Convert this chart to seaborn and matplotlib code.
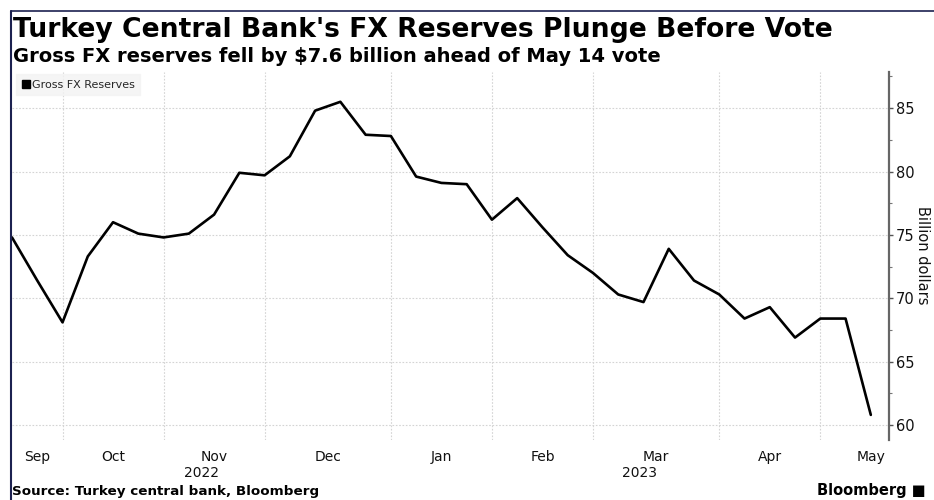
import numpy as np
import pandas as pd
import matplotlib
matplotlib.use("Agg")
import matplotlib.pyplot as plt
import matplotlib.transforms as mtransforms
from matplotlib.lines import Line2D
from matplotlib.ticker import MultipleLocator
import seaborn as sns

# Weekly gross FX reserves of the Turkish central bank (billion USD), by release week
week_start = "2022-09-22"
reserves = [74.8, 71.4, 68.1, 73.3, 76.0, 75.1, 74.8, 75.1, 76.6, 79.9,
            79.7, 81.2, 84.8, 85.5, 82.9, 82.8, 79.6, 79.1, 79.0, 76.2,
            77.9, 75.6, 73.4, 72.0, 70.3, 69.7, 73.9, 71.4, 70.3, 68.4,
            69.3, 66.9, 68.4, 68.4, 60.8]
y_ticks = [60, 65, 70, 75, 80, 85]
series_name = "Gross FX Reserves"
title = "Turkey Central Bank's FX Reserves Plunge Before Vote"
subtitle = "Gross FX reserves fell by $7.6 billion ahead of May 14 vote"
source = "Source: Turkey central bank, Bloomberg"
y_label = "Billion dollars"

dates = pd.date_range(week_start, periods=len(reserves), freq="7D")
df = pd.DataFrame({"week": np.arange(len(reserves)), "date": dates,
                   "reserves": reserves})

sns.set_theme(style="white")
plt.rcParams["font.family"] = ["DejaVu Sans"]

fig = plt.figure(figsize=(9.34, 5.0), dpi=100)
ax = fig.add_axes([12 / 934, 60 / 500, 877 / 934, 368 / 500])

sns.lineplot(data=df, x="week", y="reserves", color="black", lw=1.9,
             ax=ax, legend=False)

ax.set_xlim(0, 34.72)
ax.set_ylim(58.82, 87.85)

# Month boundaries sit on the first observation of each month
months = df["date"].dt.to_period("M")
starts = [0] + [i for i in range(1, len(df)) if months[i] != months[i - 1]]
ax.set_xticks(starts[1:])
ax.set_xticklabels([])
ax.tick_params(axis="x", length=0)

trans = mtransforms.blended_transform_factory(ax.transData, ax.transAxes)
weekday = dates[0].weekday()
for s in starts:
    period = months[s]
    # weekly slots the whole calendar month would occupy on this axis
    days = pd.date_range(period.start_time, period.end_time.normalize())
    slots = [d for d in days if d.weekday() == weekday]
    first = s - sum(1 for d in slots if d < dates[s])
    lo = max(first, 0)
    hi = first + len(slots)
    ax.text((lo + hi) / 2, -0.045, dates[s].strftime("%b"), transform=trans,
            ha="center", va="center", fontsize=10, color="#111111")

years = df["date"].dt.year
for yr in sorted(years.unique()):
    idx = df.index[years == yr]
    lo = idx.min()
    hi = min(idx.max() + 1, ax.get_xlim()[1])
    ax.text((lo + hi) / 2, -0.09, str(yr), transform=trans, ha="center",
            va="center", fontsize=10, color="#111111")

# Right-hand value axis
ax.yaxis.tick_right()
ax.set_yticks(y_ticks)
ax.yaxis.set_minor_locator(MultipleLocator(2.5))
ax.tick_params(axis="y", which="major", length=3, width=1, pad=2,
               labelsize=10.5, color="#555555", labelcolor="#111111")
ax.tick_params(axis="y", which="minor", length=2.5, width=0.8, color="#777777")
ax.set_ylabel("")
ax.set_xlabel("")
fig.text(922 / 934, 1 - 255 / 500, y_label, rotation=270, ha="center",
         va="center", fontsize=10.5, color="#111111")

for side in ["left", "top", "bottom"]:
    ax.spines[side].set_visible(False)
ax.spines["right"].set_color("#666666")
ax.spines["right"].set_linewidth(1.6)

ax.grid(True, which="major", axis="both", color="#d4d4d4", lw=0.8,
        linestyle=(0, (1.5, 1.5)))
ax.set_axisbelow(True)

handle = Line2D([], [], marker="s", color="black", linestyle="none",
                markersize=5.5)
leg = ax.legend([handle], [series_name], loc="upper left", fontsize=8,
                frameon=True, handletextpad=0.1, handlelength=0.8,
                borderpad=0.5, bbox_to_anchor=(0.002, 1.0),
                borderaxespad=0.2, fancybox=False)
leg.get_frame().set_facecolor("#f3f3f3")
leg.get_frame().set_edgecolor("#f3f3f3")

fig.text(13 / 934, 1 - 30 / 500, title, fontsize=19.2, fontweight="bold",
         ha="left", va="center", color="black")
fig.text(13 / 934, 1 - 56 / 500, subtitle, fontsize=14, fontweight="bold",
         ha="left", va="center", color="black")
fig.text(12 / 934, 1 - 491 / 500, source, fontsize=9.7, fontweight="bold",
         ha="left", va="center", color="black")
fig.text(926 / 934, 1 - 491 / 500, "Bloomberg \u25A0", fontsize=10.5,
         fontweight="bold", ha="right", va="center", color="black")

# Thin navy frame along the top and left edges
fig.add_artist(Line2D([10.5 / 934, 10.5 / 934], [0, 1 - 10.5 / 500],
                      transform=fig.transFigure, color="#1c2150", lw=1.5))
fig.add_artist(Line2D([10.5 / 934, 1], [1 - 10.5 / 500, 1 - 10.5 / 500],
                      transform=fig.transFigure, color="#1c2150", lw=1.2))

fig.savefig("out.png", dpi=100)
